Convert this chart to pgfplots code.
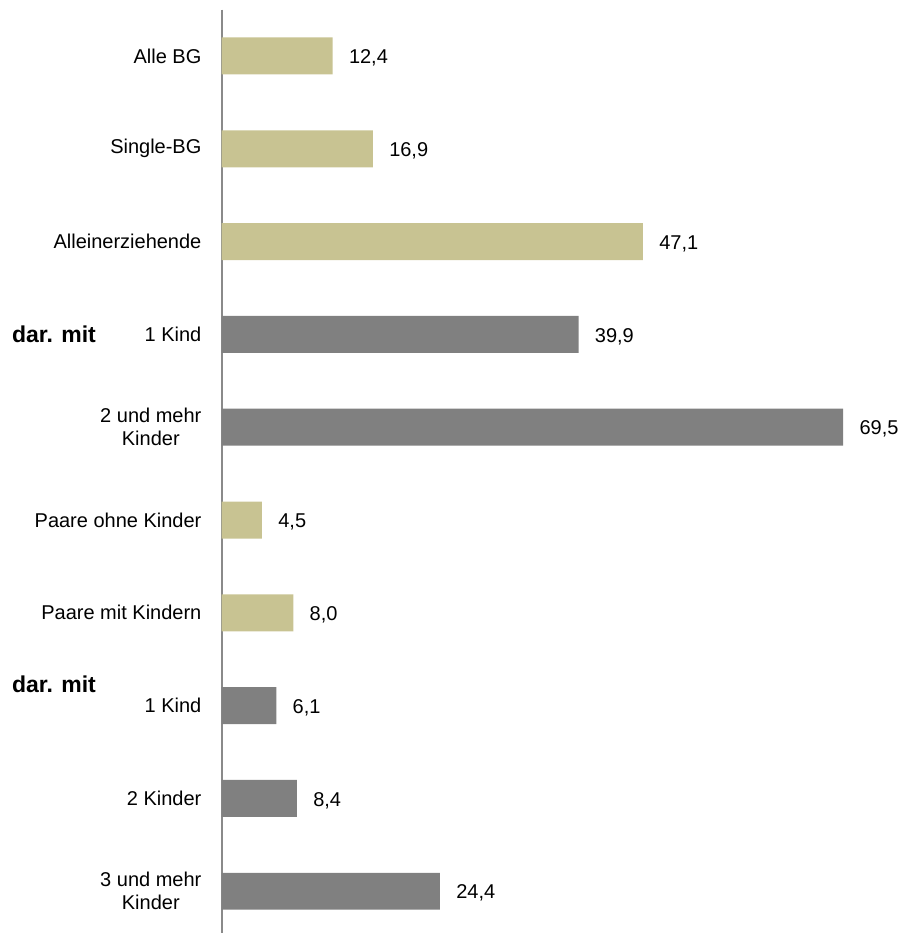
\documentclass[border=0pt]{standalone}
\usepackage{pgfplots}
\pgfplotsset{compat=1.18}
\usepackage{fontspec}
\setmainfont{Liberation Sans}
\definecolor{tanbar}{HTML}{C8C392}
\definecolor{graybar}{HTML}{808080}
\definecolor{axisgray}{HTML}{8A8A8A}
\begin{document}
\begin{tikzpicture}
\begin{axis}[
  xbar, bar width=18.5pt, bar shift=0pt,
  scale only axis, width=340pt, height=462pt,
  xmin=0, xmax=76, ymin=-0.5, ymax=9.45, y dir=reverse,
  axis x line=none, axis y line*=left,
  y axis line style={draw=axisgray, line width=1pt},
  xtick=\empty,
  ytick={0,...,9},
  yticklabels={Alle BG, Single-BG, Alleinerziehende, 1 Kind, {2 und mehr\\Kinder}, Paare ohne Kinder, Paare mit Kindern, 1 Kind, 2 Kinder, {3 und mehr\\Kinder}},
  major tick length=0pt,
  yticklabel style={align=center, font=\fontsize{10}{11.5}\selectfont, inner sep=0pt, xshift=-10pt},
  nodes near coords,
  every node near coord/.append style={anchor=west, inner sep=0pt, xshift=8pt, yshift=-1pt, font=\fontsize{10}{12}\selectfont, text=black},
  /pgf/number format/fixed, /pgf/number format/fixed zerofill,
  /pgf/number format/precision=1, /pgf/number format/use comma,
  /pgf/number format/assume math mode=true,
  clip=false,
]
\addplot[fill=tanbar, draw=none] coordinates {(12.4,0) (16.9,1) (47.1,2) (4.5,5) (8.0,6)};
\addplot[fill=graybar, draw=none] coordinates {(39.9,3) (69.5,4) (6.1,7) (8.4,8) (24.4,9)};
\node[anchor=west, inner sep=0pt, font=\fontsize{11.5}{13}\selectfont\bfseries] at (axis cs:-23.5,3) {dar. mit};
\node[anchor=west, inner sep=0pt, font=\fontsize{11.5}{13}\selectfont\bfseries] at (axis cs:-23.5,6.77) {dar. mit};
\path (axis cs:-24.8,-0.603) rectangle (axis cs:76.4,9.45);
\end{axis}
\end{tikzpicture}
\end{document}
